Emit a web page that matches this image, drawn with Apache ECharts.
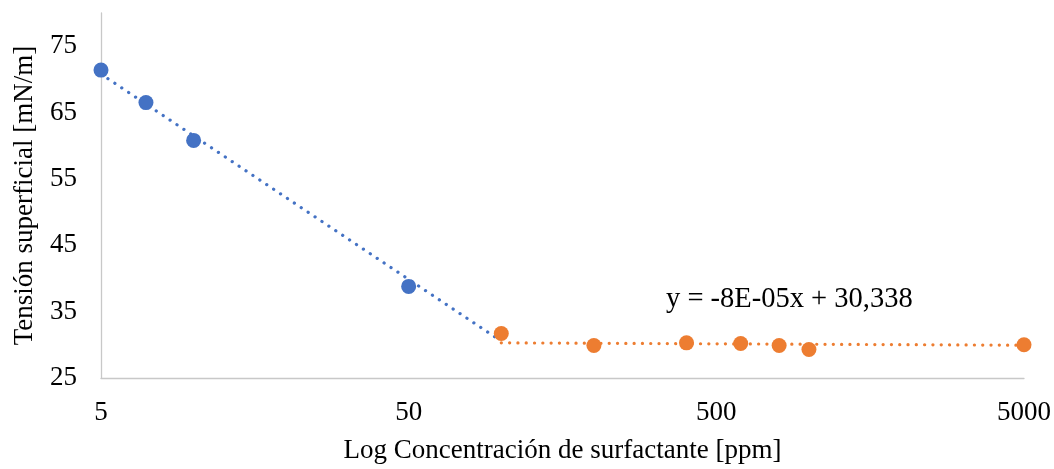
<!DOCTYPE html>
<html>
<head>
<meta charset="utf-8">
<script src="https://cdn.jsdelivr.net/npm/echarts@6/dist/echarts.min.js"></script>
<style>
  html, body { margin: 0; padding: 0; background: #fff; }
  #chart { width: 1054px; height: 469px; }
</style>
</head>
<body>
<div id="chart"></div>
<script>
'use strict'
// valores
const conc1 = [5, 7, 10, 50];
const tension1 = [71.4, 66.5, 60.8, 38.8];
const conc2 = [100, 200, 400, 600, 800, 1000, 5000];
const tension2 = [31.7, 29.9, 30.3, 30.2, 29.9, 29.3, 30.0];
// líneas de tendencia (extremos)
const trend1X = [5, 95.3];
const trend1Y = [70.8, 31.2];
const trend2X = [100, 5000];
const trend2Y = [30.3, 29.94];
const xTickValues = [5, 50, 500, 5000];
const equation = 'y = -8E-05x + 30,338';

const font = '"Liberation Serif", "Times New Roman", serif';
const pairs = (xs, ys) => xs.map((x, i) => [x, ys[i]]);

let myChart = echarts.init(document.getElementById('chart'));
let option = {
  animation: false,
  textStyle: { fontFamily: font },
  grid: { left: 101, right: 30, top: 13, bottom: 85, containLabel: false },
  xAxis: {
    type: 'log',
    logBase: 10,
    min: 5,
    max: 5000,
    name: 'Log Concentración de surfactante [ppm]',
    nameLocation: 'middle',
    nameGap: 59,
    nameTextStyle: { color: '#000', fontSize: 27, fontFamily: font },
    axisLine: { lineStyle: { color: '#c8c8c8', width: 1.3 } },
    axisTick: { show: false },
    splitLine: { show: false },
    minorSplitLine: { show: false },
    axisLabel: {
      customValues: xTickValues,
      formatter: (v) => String(v),
      color: '#000',
      fontSize: 27,
      fontFamily: font,
      margin: 21
    }
  },
  yAxis: {
    type: 'value',
    min: 25,
    max: 80,
    interval: 10,
    name: 'Tensión superficial [mN/m]',
    nameLocation: 'middle',
    nameGap: 63,
    nameTextStyle: { color: '#000', fontSize: 27, fontFamily: font },
    axisLine: { show: true, lineStyle: { color: '#c8c8c8', width: 1.3 } },
    axisTick: { show: false },
    splitLine: { show: false },
    axisLabel: {
      color: '#000',
      fontSize: 27,
      fontFamily: font,
      margin: 24,
      showMaxLabel: false
    }
  },
  series: [
    {
      type: 'line',
      data: pairs(trend1X, trend1Y),
      showSymbol: false,
      symbol: 'none',
      lineStyle: { color: '#4472C4', width: 3.2, type: [0.1, 8.2], cap: 'round' },
      z: 1
    },
    {
      type: 'line',
      data: pairs(trend2X, trend2Y),
      showSymbol: false,
      symbol: 'none',
      lineStyle: { color: '#ED7D31', width: 3.2, type: [0.1, 8.2], cap: 'round' },
      z: 1
    },
    {
      type: 'scatter',
      data: pairs(conc1, tension1),
      symbolSize: 15,
      itemStyle: { color: '#4472C4', opacity: 1 },
      z: 3
    },
    {
      type: 'scatter',
      data: pairs(conc2, tension2),
      symbolSize: 15,
      itemStyle: { color: '#ED7D31', opacity: 1 },
      z: 3
    }
  ],
  graphic: [
    {
      type: 'text',
      left: 666,
      top: 285,
      style: { text: equation, fill: '#000', font: '28.5px ' + font }
    }
  ]
};
myChart.setOption(option);
</script>
</body>
</html>
